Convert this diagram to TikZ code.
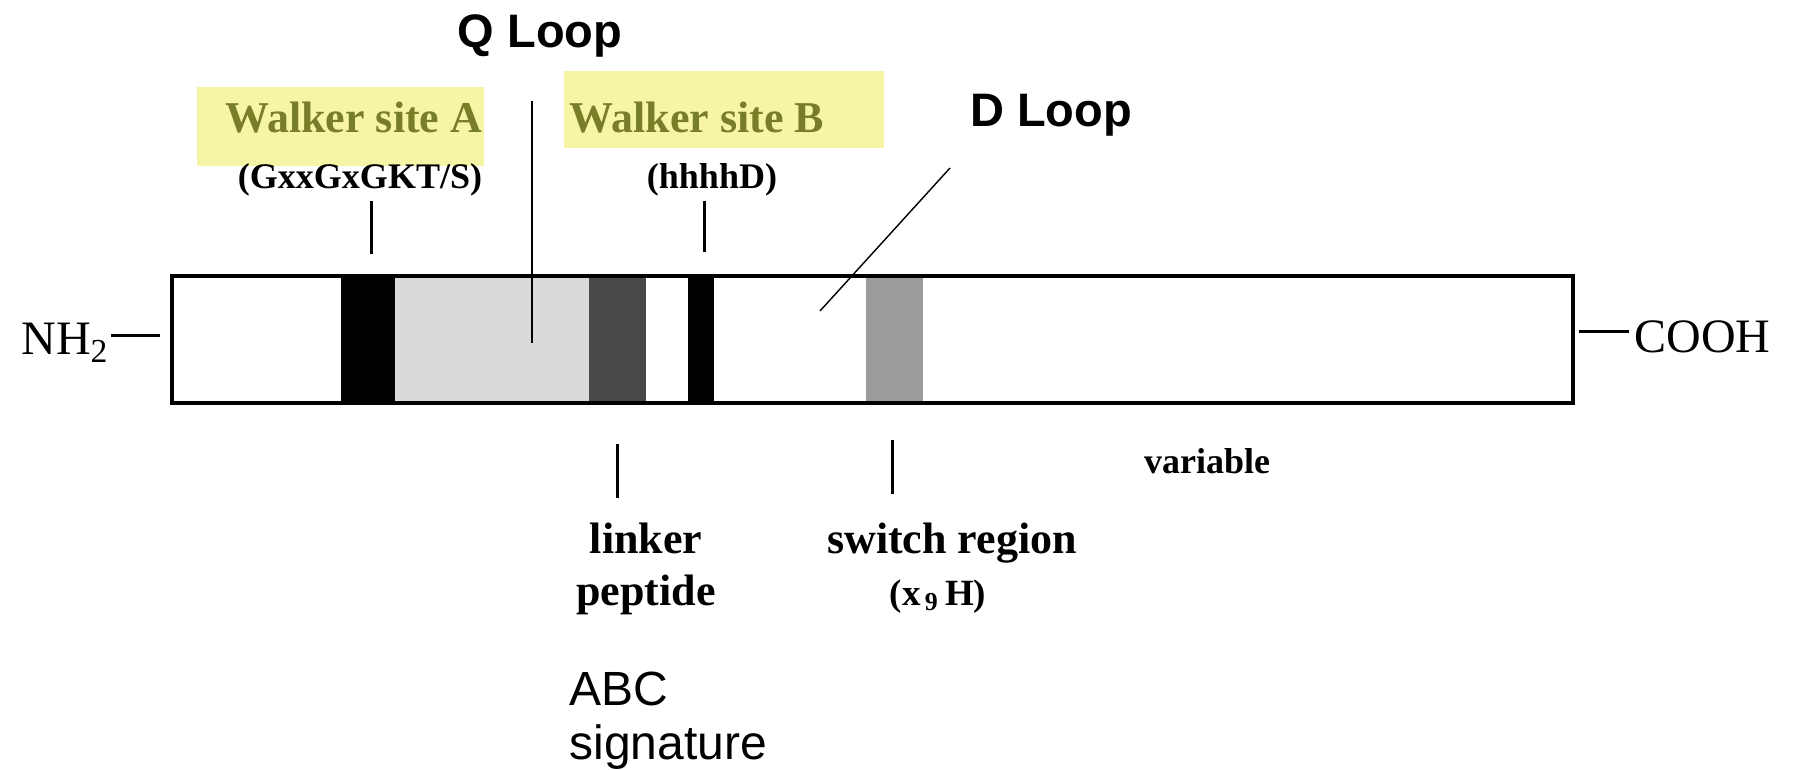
\documentclass[tikz,border=0pt]{standalone}
\usepackage{fontspec}
\setmainfont{Liberation Serif}
\newfontfamily\arialfont{Liberation Sans}
\definecolor{hlyellow}{RGB}{245,245,165}
\definecolor{olivetext}{RGB}{120,125,40}
\definecolor{lightband}{RGB}{218,218,218}
\definecolor{darkband}{RGB}{72,72,72}
\definecolor{switchband}{RGB}{155,155,155}
\begin{document}
\begin{tikzpicture}[x=0.5pt,y=-0.5pt,
  loopfont/.style={font=\arialfont\bfseries\fontsize{23.5}{28}\selectfont, inner sep=0},
  walkerfont/.style={font=\bfseries\fontsize{22}{26}\selectfont, text=olivetext, inner sep=0},
  motiffont/.style={font=\bfseries\fontsize{18}{22}\selectfont, inner sep=0},
  regionfont/.style={font=\bfseries\fontsize{22}{26}\selectfont, inner sep=0, align=center},
  endfont/.style={font=\fontsize{24}{28}\selectfont, inner sep=0},
  abcfont/.style={font=\arialfont\fontsize{24}{27}\selectfont, inner sep=0, align=left},
  tickline/.style={line width=1.5pt},
  thinline/.style={line width=0.7pt},
  highlight/.style={fill=hlyellow, draw=none}
]
\useasboundingbox (0,0) rectangle (1794,770);

% highlights
\fill[highlight] (197,87) rectangle (484,166);
\fill[highlight] (564,71) rectangle (884,148);

% bands
\fill[black] (341,277) rectangle (395,402);
\fill[lightband] (395,277) rectangle (589,402);
\fill[darkband] (589,277) rectangle (646,402);
\fill[black] (688,277) rectangle (714,402);
\fill[switchband] (866,277) rectangle (923,402);

% protein box
\node[draw, line width=2pt, inner sep=0, minimum width=700.5pt, minimum height=63pt] (protein) at (872.5,339.5) {};

% labels
\node[loopfont, anchor=base] (qloop) at (540,48) {Q Loop};
\node[loopfont, anchor=base] (dloop) at (1051,127) {D Loop};
\node[walkerfont, anchor=base] (walkerA) at (354,133) {Walker site A};
\node[walkerfont, anchor=base] (walkerB) at (697,133) {Walker site B};
\node[motiffont, anchor=base] (motifA) at (360,189) {(GxxGxGKT/S)};
\node[motiffont, anchor=base] (motifB) at (712,189) {(hhhhD)};
\node[endfont, anchor=base west] (nh) at (21,355) {NH\textsubscript{2}};
\node[endfont, anchor=base west] (cooh) at (1634,352) {COOH};
\node[motiffont, anchor=base] (variable) at (1207,473) {variable};
\node[regionfont, anchor=base] (linker) at (646,605) {linker\\peptide};
\node[regionfont, anchor=base] (switch) at (952,605) {switch region\\{\fontsize{18.5}{22}\selectfont(x\textsubscript{\,9}\,H)}\hspace*{14pt}};
\node[abcfont, anchor=base west] (abc) at (569,759) {ABC\\signature};

% connectors
\coordinate (nhdashA) at (111,336);
\coordinate (nhdashB) at (160,336);
\coordinate (coohdashA) at (1579,332);
\coordinate (coohdashB) at (1629,332);
\draw[tickline] (nhdashA) -- (nhdashB);
\draw[tickline] (coohdashA) -- (coohdashB);

\coordinate (tickAtop) at (371,201);
\coordinate (tickAbot) at (371,254);
\coordinate (tickBtop) at (704,201);
\coordinate (tickBbot) at (704,252);
\coordinate (tickLtop) at (617,444);
\coordinate (tickLbot) at (617,498);
\coordinate (tickStop) at (892,440);
\coordinate (tickSbot) at (892,494);
\draw[tickline] (tickAtop) -- (tickAbot);
\draw[tickline] (tickBtop) -- (tickBbot);
\draw[tickline] (tickLtop) -- (tickLbot);
\draw[tickline] (tickStop) -- (tickSbot);

\coordinate (qlinetop) at (532,101);
\coordinate (qlinebot) at (532,343);
\draw[thinline] (qlinetop) -- (qlinebot);
\coordinate (dlinetop) at (950,168);
\coordinate (dlinebot) at (820,311);
\draw[thinline] (dlinetop) -- (dlinebot);
\end{tikzpicture}
\end{document}
